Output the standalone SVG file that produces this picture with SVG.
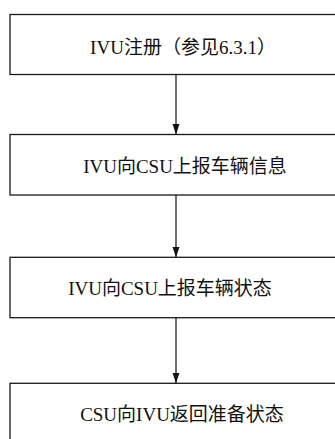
<svg xmlns="http://www.w3.org/2000/svg" width="335" height="439" viewBox="0 0 335 439">
<style>
.box{fill:#fff;stroke:#1a1a1a;stroke-width:1.3}
.lbl{font-family:"Liberation Serif","Noto Sans CJK SC",serif;font-size:19px;fill:#111;text-anchor:middle}
.con{stroke:#111;stroke-width:1.2;fill:none}
</style>
<defs>
<marker id="ah" markerWidth="11" markerHeight="8" refX="10.5" refY="4" orient="auto" markerUnits="userSpaceOnUse" viewBox="0 0 11 8">
<path d="M0,0.5 L10.5,4 L0,7.5 Z" fill="#111"/>
</marker>
</defs>
<rect width="335" height="439" fill="#fff"/>
<g id="n1"><rect class="box" x="10" y="14.5" width="332" height="60"/><text class="lbl" x="183" y="54">IVU注册（参见6.3.1）</text></g>
<g id="n2"><rect class="box" x="10" y="134.5" width="332" height="60.5"/><text class="lbl" x="185" y="172.5">IVU向CSU上报车辆信息</text></g>
<g id="n3"><rect class="box" x="10" y="257.3" width="332" height="60.4"/><text class="lbl" x="170" y="295">IVU向CSU上报车辆状态</text></g>
<g id="n4"><rect class="box" x="10" y="383.3" width="332" height="60"/><text class="lbl" x="182" y="420.5">CSU向IVU返回准备状态</text></g>
<g id="connectors">
<line class="con" x1="176" y1="74.5" x2="176" y2="134.5" marker-end="url(#ah)"/>
<line class="con" x1="176" y1="195" x2="176" y2="257.3" marker-end="url(#ah)"/>
<line class="con" x1="176" y1="317.7" x2="176" y2="383.3" marker-end="url(#ah)"/>
</g>
</svg>
